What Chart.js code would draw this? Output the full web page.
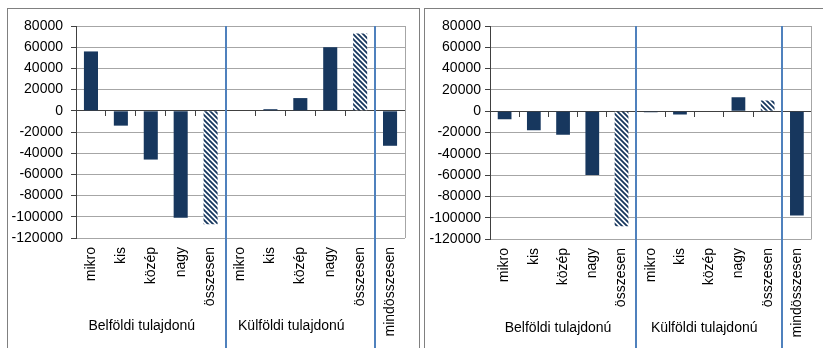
<!DOCTYPE html>
<html>
<head>
<meta charset="utf-8">
<script src="https://cdn.jsdelivr.net/npm/chart.js@4"></script>
<style>
  body { margin: 0; background: #fff; overflow: hidden; width: 823px; height: 348px; position: relative; }
  .panel { position: absolute; top: 8px; height: 400px; border: 1px solid #808080; background: #fff; }
  #p1 { left: 7px; width: 411px; }
  #p2 { left: 424px; width: 420px; }
  canvas { position: absolute; left: 0; top: 0; }
</style>
</head>
<body>
<div class="panel" id="p1"><canvas id="c1" width="411" height="339"></canvas></div>
<div class="panel" id="p2"><canvas id="c2" width="398" height="339"></canvas></div>
<script>
// Categories along the x axis
const categories = ['mikro', 'kis', 'közép', 'nagy', 'összesen',
                    'mikro', 'kis', 'közép', 'nagy', 'összesen',
                    'mindösszesen'];

// Ownership groups (first and last category index of each)
const groupNames = ['Belföldi tulajdonú', 'Külföldi tulajdonú'];
const groupFrom = [0, 5];
const groupTo = [4, 9];

// Series values for the two panels
const leftValues  = [56000, -14000, -46000, -101000, -107000, 500, 1500, 12000, 60000, 73000, -33000];
const rightValues = [-7500, -18000, -22000, -60000, -108000, -1000, -3000, 500, 13000, 10000, -98000];

// Value axis range
const yMin = -120000;
const yMax = 80000;
const yStep = 20000;

const FONT = '"Liberation Sans", Arial, sans-serif';
const NAVY = '#17375E';
const SEP = '#4F81BD';

function hatchPattern(color) {
  const s = 5;
  const c = document.createElement('canvas');
  c.width = c.height = s;
  const g = c.getContext('2d');
  g.fillStyle = '#fff';
  g.fillRect(0, 0, s, s);
  g.strokeStyle = color;
  g.lineWidth = 1.8;
  g.beginPath();
  g.moveTo(-1, -1); g.lineTo(s + 1, s + 1);
  g.moveTo(-1, s - 1); g.lineTo(1, s + 1);
  g.moveTo(s - 1, -1); g.lineTo(s + 1, 1);
  g.stroke();
  return g.createPattern(c, 'repeat');
}

const decor = {
  id: 'decor',
  afterDatasetsDraw(chart, args, opts) {
    const { ctx, chartArea: a, scales: { x } } = chart;
    ctx.save();
    // plot area right edge
    const rx = Math.round(a.right) + 0.5;
    ctx.strokeStyle = '#a6a6a6';
    ctx.lineWidth = 1;
    ctx.beginPath(); ctx.moveTo(rx, a.top); ctx.lineTo(rx, a.bottom); ctx.stroke();
    // group separators
    ctx.strokeStyle = SEP;
    ctx.lineWidth = 2;
    groupTo.forEach(i => {
      const px = Math.round((x.getPixelForValue(i) + x.getPixelForValue(i + 1)) / 2);
      ctx.beginPath(); ctx.moveTo(px, a.top); ctx.lineTo(px, chart.height); ctx.stroke();
    });
    // group titles
    ctx.fillStyle = '#000';
    ctx.font = '14px ' + FONT;
    ctx.textAlign = 'center';
    ctx.textBaseline = 'middle';
    groupNames.forEach((name, k) => {
      const cx = (x.getPixelForValue(groupFrom[k]) + x.getPixelForValue(groupTo[k])) / 2 + opts.shift;
      ctx.fillText(name, cx, opts.labelY);
    });
    ctx.restore();
  }
};

function makeChart(id, values, geom) {
  const ctx = document.getElementById(id).getContext('2d');
  const hatch = hatchPattern(NAVY);
  const colors = categories.map(c => c === 'összesen' ? hatch : NAVY);
  return new Chart(ctx, {
    type: 'bar',
    data: {
      labels: categories,
      datasets: [{
        data: values,
        backgroundColor: colors,
        borderWidth: 0,
        barPercentage: 0.47,
        categoryPercentage: 1
      }]
    },
    options: {
      responsive: false,
      animation: false,
      events: [],
      layout: { padding: { left: 0, top: geom.padTop, right: geom.padRight, bottom: 0 } },
      plugins: {
        legend: { display: false },
        tooltip: { enabled: false },
        decor: { shift: geom.shift, labelY: geom.labelY }
      },
      scales: {
        x: {
          grid: { display: false, drawTicks: false },
          border: { display: false },
          ticks: {
            autoSkip: false, minRotation: 90, maxRotation: 90,
            padding: 9, color: '#000', font: { family: FONT, size: 14 }
          },
          afterFit(s) { s.height = geom.xHeight; }
        },
        x2: {
          type: 'category',
          position: { y: 0 },
          offset: true,
          grid: { offset: true, drawOnChartArea: false, drawTicks: true, tickLength: 5, tickColor: '#404040' },
          border: { color: '#404040', width: 1 },
          ticks: { display: false }
        },
        y: {
          min: yMin, max: yMax,
          ticks: {
            stepSize: yStep, padding: geom.yPad, color: '#000',
            font: { family: FONT, size: 14 },
            callback: v => String(v)
          },
          grid: { color: '#a6a6a6', lineWidth: 1, tickColor: '#404040', tickLength: 5 },
          border: { color: '#404040', width: 1 },
          afterFit(s) { s.width = geom.axisWidth; }
        }
      }
    },
    plugins: [decor]
  });
}

makeChart('c1', leftValues,  { axisWidth: 68, padTop: 17, padRight: 14, xHeight: 110, yPad: 8, shift: -9, labelY: 317 });
makeChart('c2', rightValues, { axisWidth: 65, padTop: 17, padRight: 7,  xHeight: 109, yPad: 4, shift: -5, labelY: 319 });
</script>
</body>
</html>
